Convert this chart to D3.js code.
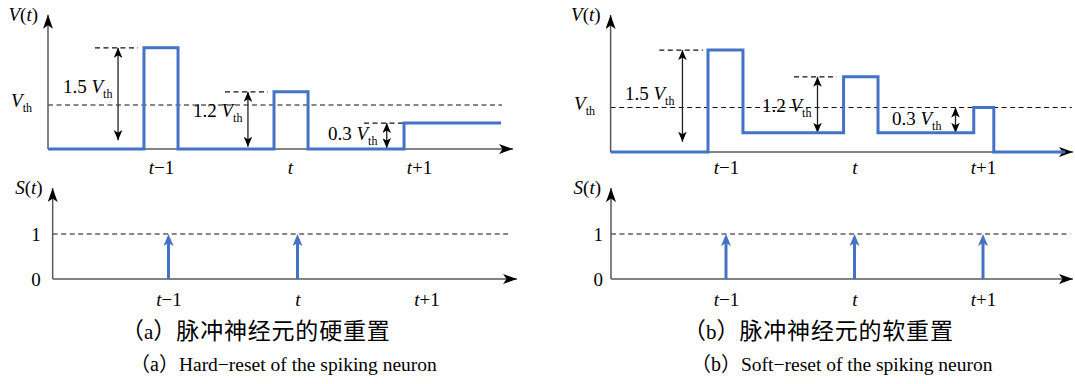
<!DOCTYPE html>
<html><head><meta charset="utf-8">
<script src="https://cdn.jsdelivr.net/npm/d3@7/dist/d3.min.js"></script>
<style>
body{margin:0;background:#fff}
svg{display:block}
text{font-family:"Liberation Serif","Times New Roman",serif;fill:#000}
.cjk{font-family:"Noto Sans CJK SC","Noto Sans CJK JP",sans-serif}
</style></head><body>
<svg id="chart" width="1075" height="384"></svg>
<script>
// ================= DATA =================
const timePositions = [1, 2, 3];
const timeLabels = ["t−1", "t", "t+1"];
const vThreshold = 1;
const spikeTicks = [0, 1];
const spikeTickLabels = ["0", "1"];

// membrane potential, hard reset (step function: edges in time units, level between edges)
const hardEdges  = [0.124, 0.868, 1.132, 1.876, 2.140, 2.884, 3.636];
const hardLevels = [0, 2.30, 0, 1.30, 0, 0.59];
// membrane potential, soft reset
const softEdges  = [0.102, 0.860, 1.132, 1.915, 2.183, 2.928, 3.084, 3.640];
const softLevels = [0, 2.29, 0.43, 1.69, 0.43, 1.00, 0];

// spike outputs at t-1, t, t+1
const hardSpikes = [1, 1, 0];
const softSpikes = [1, 1, 1];

// annotations (multiples of V_th) : value, top level, bottom level, time position, dashed marker span
const hardNoteValues = ["1.5", "1.2", "0.3"];
const hardNoteTop    = [2.30, 1.30, 0.59];
const hardNoteBottom = [0.20, 0.05, 0.02];
const hardNoteTime   = [0.667, 1.674, 2.750];
const hardNoteDash   = [[0.488, 0.822], [1.496, 1.829], [2.574, 2.884]];

const softNoteValues = ["1.5", "1.2", "0.3"];
const softNoteTop    = [2.29, 1.69, 1.00];
const softNoteBottom = [0.23, 0.43, 0.43];
const softNoteTime   = [0.661, 1.712, 2.786];
const softNoteDash   = [[0.481, 0.820], [1.529, 1.862], null];

const captionTags = ["a", "b"];
const captionsCN = ["脉冲神经元的硬重置", "脉冲神经元的软重置"];
const captionsEN = ["Hard−reset of the spiking neuron", "Soft−reset of the spiking neuron"];

// ================= LAYOUT =================
const BLUE = "#4472c4";
const layout = {
  hardV: {xr:[32,548],     yr:[149,17],   ymax:3, xStart:0.124, xEnd:3.729, yEnd:3.05, thrEnd:3.643, tickY:25, lblPad:16, ylab:"V"},
  softV: {xr:[597.5,1111.5], yr:[152,18.5], ymax:3, xStart:0.102, xEnd:3.700, yEnd:3.08, thrEnd:3.690, tickY:22, lblPad:15.6, ylab:"V"},
  hardS: {xr:[39.5,555.5], yr:[279,189],  ymax:2, xStart:0.102, xEnd:3.702, yEnd:2.02, thrEnd:3.632, tickY:27, lblPad:12, ylab:"S"},
  softS: {xr:[597.5,1111.5], yr:[279,189], ymax:2, xStart:0.105, xEnd:3.700, yEnd:2.02, thrEnd:3.680, tickY:27, lblPad:8, ylab:"S"}
};
const hardNotePos = [{x:63,y:93},{x:193,y:117},{x:328,y:140}];
const softNotePos = [{x:625,y:100},{x:762,y:112},{x:892,y:125}];

const svg = d3.select("#chart");
const defs = svg.append("defs");
function marker(id, len, wid, notch, color, refX){
  defs.append("marker").attr("id", id)
    .attr("markerUnits","userSpaceOnUse")
    .attr("markerWidth", len).attr("markerHeight", wid)
    .attr("viewBox", `0 0 ${len} ${wid}`)
    .attr("refX", refX).attr("refY", wid/2)
    .attr("orient","auto-start-reverse")
    .append("path")
    .attr("d", `M0,0L${len},${wid/2}L0,${wid}L${notch},${wid/2}Z`)
    .attr("fill", color);
}
marker("axHead", 14, 10, 3.5, "#000", 14);
marker("noteHead", 10, 8.5, 2.5, "#000", 10);
marker("spikeHead", 12, 10, 3, BLUE, 3);

function setupPanel(p){
  p.x = d3.scaleLinear().domain([0,4]).range(p.xr);
  p.y = d3.scaleLinear().domain([0,p.ymax]).range(p.yr);
  return p;
}
Object.values(layout).forEach(setupPanel);

function italicFirst(sel, s){
  sel.text(null);
  sel.append("tspan").attr("font-style","italic").text(s[0]);
  if (s.length > 1) sel.append("tspan").text(s.slice(1));
}

function drawFrame(p, dashLevel){
  const g = svg.append("g");
  const ax = d3.axisBottom(p.x).tickValues(timePositions).tickSize(0)
    .tickFormat((d,i)=>timeLabels[i]);
  const ga = g.append("g").attr("transform",`translate(0,${p.y(0)})`).call(ax);
  ga.attr("font-family",null).attr("font-size",null);
  ga.select(".domain").remove();
  ga.selectAll("text").attr("y", p.tickY).attr("dy", null).attr("font-size", 19)
    .each(function(d,i){ italicFirst(d3.select(this), timeLabels[i]); });
  g.append("line")
    .attr("x1", p.x(p.xStart)).attr("x2", p.x(p.thrEnd))
    .attr("y1", p.y(dashLevel)).attr("y2", p.y(dashLevel))
    .attr("stroke","#111").attr("stroke-width",1.2).attr("stroke-dasharray","5,3.5");
  g.append("line").attr("x1",p.x(p.xStart)).attr("x2",p.x(p.xEnd))
    .attr("y1",p.y(0)).attr("y2",p.y(0))
    .attr("stroke","#595959").attr("stroke-width",1.5).attr("marker-end","url(#axHead)");
  g.append("line").attr("x1",p.x(p.xStart)).attr("x2",p.x(p.xStart))
    .attr("y1",p.y(0)).attr("y2",p.y(p.yEnd))
    .attr("stroke","#595959").attr("stroke-width",1.5).attr("marker-end","url(#axHead)");
  const yl = g.append("text").attr("x", p.x(p.xStart) - 10).attr("y", p.y(p.yEnd) + 6)
    .attr("text-anchor","end").attr("font-size",19);
  yl.append("tspan").attr("font-style","italic").text(p.ylab);
  yl.append("tspan").text("(");
  yl.append("tspan").attr("font-style","italic").text("t");
  yl.append("tspan").text(")");
  return g;
}

function drawV(p, edges, levels, noteValues, noteTop, noteBottom, noteTime, noteDash, notePos){
  const g = drawFrame(p, vThreshold);
  const vt = g.append("text").attr("x", p.x(p.xStart) - p.lblPad).attr("y", p.y(vThreshold) + 2)
    .attr("text-anchor","end").attr("font-size",19);
  vt.append("tspan").attr("font-style","italic").text("V");
  vt.append("tspan").attr("font-size",12).attr("dy",5).text("th");
  noteValues.forEach((v,i)=>{
    if (noteDash[i]) {
      g.append("line").attr("x1",p.x(noteDash[i][0])).attr("x2",p.x(noteDash[i][1]))
        .attr("y1",p.y(noteTop[i])).attr("y2",p.y(noteTop[i]))
        .attr("stroke","#111").attr("stroke-width",1.2).attr("stroke-dasharray","5,3.5");
    }
    g.append("line").attr("x1",p.x(noteTime[i])).attr("x2",p.x(noteTime[i]))
      .attr("y1",p.y(noteTop[i])).attr("y2",p.y(noteBottom[i]))
      .attr("stroke","#222").attr("stroke-width",1.3)
      .attr("marker-start","url(#noteHead)").attr("marker-end","url(#noteHead)");
    const t = g.append("text").attr("x", notePos[i].x).attr("y", notePos[i].y).attr("font-size",19);
    t.append("tspan").text(v + " ");
    t.append("tspan").attr("font-style","italic").text("V");
    t.append("tspan").attr("font-size",12).attr("dy",5).text("th");
  });
  const pts = levels.map((l,i)=>[edges[i], l]);
  pts.push([edges[edges.length-1], levels[levels.length-1]]);
  g.append("path").datum(pts)
    .attr("d", d3.line().x(d=>p.x(d[0])).y(d=>p.y(d[1])).curve(d3.curveStepAfter))
    .attr("fill","none").attr("stroke",BLUE).attr("stroke-width",3).attr("stroke-linejoin","miter");
}

function drawS(p, spikes){
  const g = drawFrame(p, 1);
  const ay = d3.axisLeft(p.y).tickValues(spikeTicks).tickSize(0).tickPadding(p.lblPad)
    .tickFormat((d,i)=>spikeTickLabels[i]);
  const ga = g.append("g").attr("transform",`translate(${p.x(p.xStart)},0)`).call(ay);
  ga.attr("font-family",null).attr("font-size",null);
  ga.select(".domain").remove();
  ga.selectAll("text").attr("font-size",19).attr("dy","0.33em");
  spikes.forEach((s,i)=>{
    if (!s) return;
    g.append("line").attr("x1",p.x(timePositions[i])).attr("x2",p.x(timePositions[i]))
      .attr("y1",p.y(0)).attr("y2",p.y(s) + 9)
      .attr("stroke",BLUE).attr("stroke-width",3).attr("marker-end","url(#spikeHead)");
  });
}

drawV(layout.hardV, hardEdges, hardLevels, hardNoteValues, hardNoteTop, hardNoteBottom, hardNoteTime, hardNoteDash, hardNotePos);
drawV(layout.softV, softEdges, softLevels, softNoteValues, softNoteTop, softNoteBottom, softNoteTime, softNoteDash, softNotePos);
drawS(layout.hardS, hardSpikes);
drawS(layout.softS, softSpikes);

const capCN = [{x:121,y:339},{x:683,y:339}];
const capEN = [{x:130,y:371},{x:691,y:371}];
captionTags.forEach((tag,i)=>{
  const c = svg.append("text").attr("x",capCN[i].x).attr("y",capCN[i].y);
  c.append("tspan").attr("class","cjk").attr("font-size",23).text("（");
  c.append("tspan").attr("font-size",21).text(tag);
  c.append("tspan").attr("class","cjk").attr("font-size",23).text("）");
  c.append("tspan").attr("class","cjk").attr("font-size",23).attr("letter-spacing",0.8).text(captionsCN[i]);
  const e = svg.append("text").attr("x",capEN[i].x).attr("y",capEN[i].y);
  e.append("tspan").attr("class","cjk").attr("font-size",20).text("（");
  e.append("tspan").attr("font-size",20).text(tag);
  e.append("tspan").attr("class","cjk").attr("font-size",20).text("）");
  e.append("tspan").attr("font-size",19.5).text(captionsEN[i]);
});
</script>
</body></html>
